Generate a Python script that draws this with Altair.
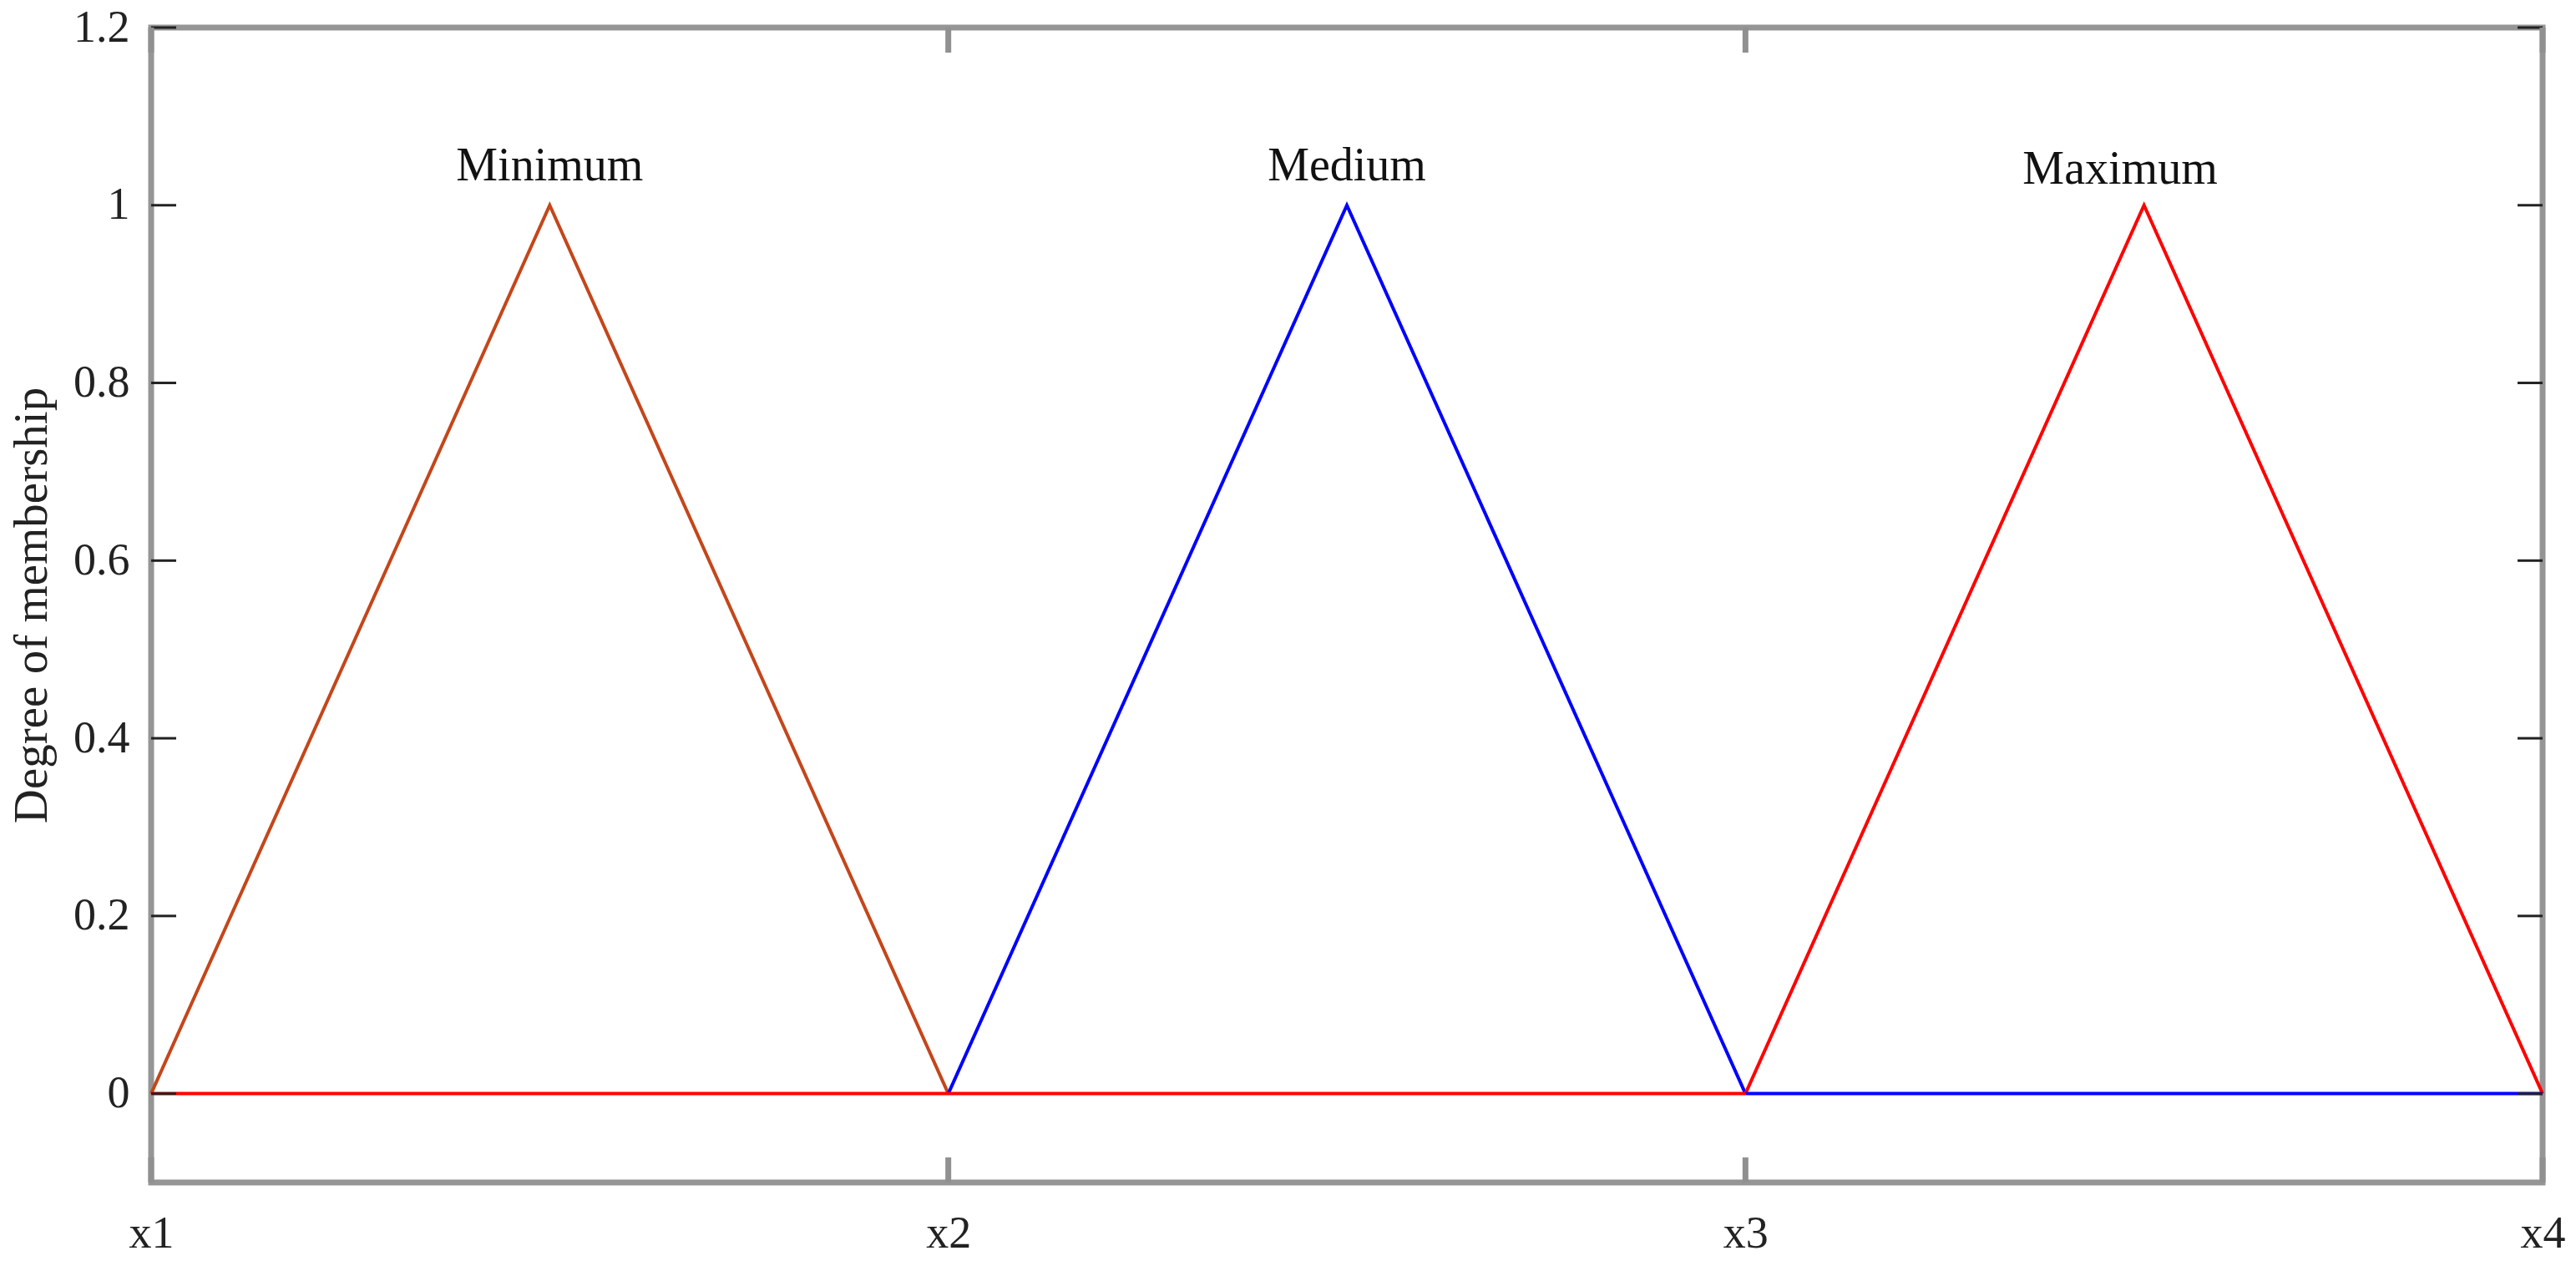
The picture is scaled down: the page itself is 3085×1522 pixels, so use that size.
import altair as alt
import pandas as pd

# ---- data ----
x_ticks = [0, 1, 2, 3]
x_tick_labels = ["x1", "x2", "x3", "x4"]
y_ticks = [0, 0.2, 0.4, 0.6, 0.8, 1.0, 1.2]

min_x = [0, 0.5, 1]
min_y = [0, 1, 0]
med_x = [1, 1.5, 2]
med_y = [0, 1, 0]
max_x = [2, 2.5, 3]
max_y = [0, 1, 0]
base_red_x = [0, 2]
base_red_y = [0, 0]
base_blue_x = [2, 3]
base_blue_y = [0, 0]

label_names = ["Minimum", "Medium", "Maximum"]
label_x = [0.5, 1.5, 2.47]
label_y = [1.044, 1.044, 1.04]

seg_names = ["Minimum", "Medium", "Maximum", "base_red", "base_blue"]
seg_colors = ["#C4461A", "#0000FF", "#FF0000", "#FF0000", "#0000FF"]

rows = []
for name, xs, ys in [("Minimum", min_x, min_y), ("Medium", med_x, med_y),
                     ("Maximum", max_x, max_y), ("base_red", base_red_x, base_red_y),
                     ("base_blue", base_blue_x, base_blue_y)]:
    for i, (xv, yv) in enumerate(zip(xs, ys)):
        rows.append({"x": xv, "y": yv, "seg": name, "ord": i})
lines_df = pd.DataFrame(rows)
labels_df = pd.DataFrame({"x": label_x, "y": label_y, "t": label_names})
yt_df = pd.DataFrame({"y": y_ticks})
xt_df = pd.DataFrame({"x": x_ticks})

W, H = 2864, 1383
FONT = "Liberation Serif"
TL = 30

xscale = alt.Scale(domain=[0, 3], nice=False, zero=False)
yscale = alt.Scale(domain=[-0.1, 1.2], nice=False, zero=False)

label_map = "{" + ",".join(f"'{v}':'{t}'" for v, t in zip(x_ticks, x_tick_labels)) + "}"

xaxis = alt.Axis(values=x_ticks, labelExpr=f"{label_map}[datum.value]", title=None,
                 ticks=False, tickSize=0, domain=False, grid=False,
                 labelFont=FONT, labelFontSize=54, labelColor="#222222",
                 labelPadding=77, labelBaseline="alphabetic", labelAlign="center",
                 labelFlush=False, labelOverlap=False, labelBound=False)
yaxis = alt.Axis(values=y_ticks, format="~g", title="Degree of membership",
                 ticks=False, tickSize=0, domain=False, grid=False,
                 labelFont=FONT, labelFontSize=54, labelColor="#222222",
                 labelPadding=26, labelAlign="right", labelBaseline="middle",
                 labelFlush=False, labelOverlap=False, labelBound=False,
                 titleFont=FONT, titleFontSize=57, titleFontWeight="normal",
                 titleColor="#222222", titleAngle=270, titleX=-126, titleY=H / 2,
                 titleAlign="center", titleBaseline="alphabetic")

lines = alt.Chart(lines_df).mark_line(strokeWidth=4).encode(
    x=alt.X("x:Q", scale=xscale, axis=xaxis),
    y=alt.Y("y:Q", scale=yscale, axis=yaxis),
    detail="seg:N",
    order="ord:Q",
    color=alt.Color("seg:N", scale=alt.Scale(domain=seg_names, range=seg_colors), legend=None),
)

texts = alt.Chart(labels_df).mark_text(font=FONT, fontSize=56, color="#111111",
                                       baseline="middle", align="center").encode(
    x=alt.X("x:Q", scale=xscale), y=alt.Y("y:Q", scale=yscale), text="t:N")

ytick_l = alt.Chart(yt_df).mark_rule(color="#222222", strokeWidth=3).encode(
    y=alt.Y("y:Q", scale=yscale), x=alt.value(0), x2=alt.value(TL))
ytick_r = alt.Chart(yt_df).mark_rule(color="#222222", strokeWidth=3).encode(
    y=alt.Y("y:Q", scale=yscale), x=alt.value(W - TL), x2=alt.value(W))
xtick_b = alt.Chart(xt_df).mark_rule(color="#909090", strokeWidth=7).encode(
    x=alt.X("x:Q", scale=xscale), y=alt.value(H), y2=alt.value(H - TL))
xtick_t = alt.Chart(xt_df).mark_rule(color="#909090", strokeWidth=7).encode(
    x=alt.X("x:Q", scale=xscale), y=alt.value(0), y2=alt.value(TL))

chart = alt.layer(lines, texts, ytick_l, ytick_r, xtick_b, xtick_t).properties(
    width=W, height=H,
    autosize=alt.AutoSizeParams(type="none"),
    padding={"left": 173, "top": 25, "right": 30, "bottom": 90},
    background="white",
).configure_view(stroke="#959595", strokeWidth=7)

chart.save("out.html", embed_options={"renderer": "svg", "actions": False})
